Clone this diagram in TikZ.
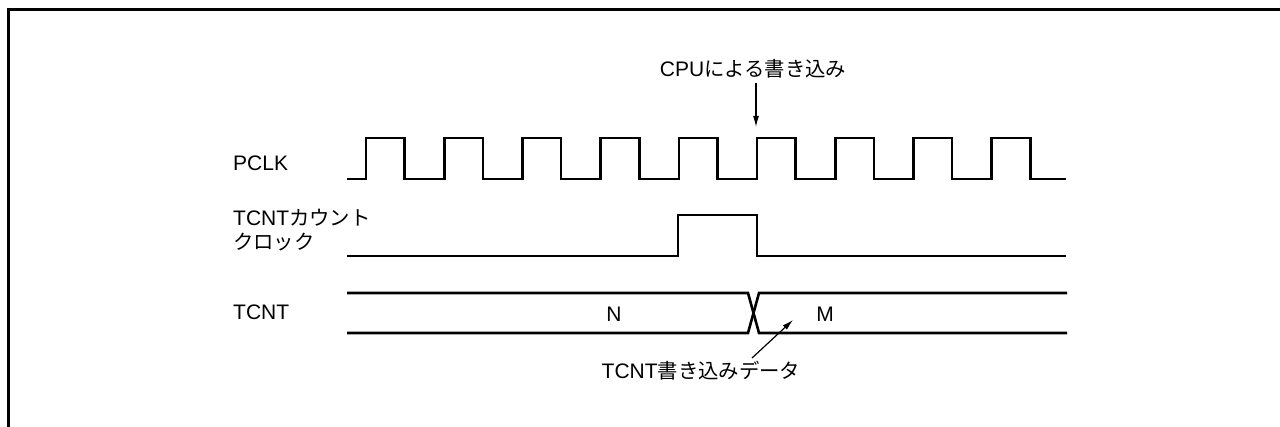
\documentclass[tikz,border=0pt]{standalone}
\usepackage{fontspec}
\setmainfont{Liberation Sans}
\newfontfamily\jp{Noto Sans CJK JP}[Scale=0.97]
\usetikzlibrary{arrows.meta}
\begin{document}
\begin{tikzpicture}[x=1pt,y=-1pt,
  sig/.style={line width=2.6pt},
  frame/.style={line width=3pt},
  arr/.style={line width=1.2pt,-{Latex[length=11pt,width=6pt]}},
  lbl/.style={inner sep=0pt,anchor=base west,font=\fontsize{21}{24}\selectfont},
  ctr/.style={inner sep=0pt,anchor=base,font=\fontsize{21}{24}\selectfont}]
\useasboundingbox (0,0) rectangle (1280,427);
% frame (open at right and bottom)
\draw[frame] (8.8,430) -- (8.8,9.7) -- (1285,9.7);
% signal labels
\node[lbl] (pclk) at (233,170.7) {PCLK};
\node[lbl] (cntclkA) at (233,226) {TCNT{\jp カウント}};
\node[lbl] (cntclkB) at (233,250) {{\jp クロック}};
\node[lbl] (tcnt) at (233,320) {TCNT};
% PCLK waveform
\draw[sig] (347,179) foreach \k in {0,...,8} {
  -- ({366+78.2*\k},179) -- ({366+78.2*\k},138)
  -- ({404.7+78.2*\k},138) -- ({404.7+78.2*\k},179) } -- (1066,179);
% TCNT count clock
\draw[sig] (347,256) -- (678,256) -- (678,215) -- (757,215) -- (757,256) -- (1066,256);
% TCNT bus
\draw[sig] (347,293) -- (748,293) -- (759,333) -- (1067,333);
\draw[sig] (347,333) -- (748,333) -- (759,293) -- (1067,293);
\node[ctr] (N) at (614,322) {N};
\node[ctr] (M) at (825,322) {M};
% CPU write annotation
\node[ctr] (cpu) at (753,76.7) {CPU{\jp による書き込み}};
\coordinate (cpuFrom) at (756,83);
\coordinate (cpuTip) at (756,127);
\draw[arr] (cpuFrom) -- (cpuTip);
% write data annotation
\node[ctr] (data) at (701,379) {TCNT{\jp 書き込みデータ}};
\coordinate (dataFrom) at (752,358);
\coordinate (dataTip) at (793,320);
\draw[arr] (dataFrom) -- (dataTip);
\end{tikzpicture}
\end{document}
